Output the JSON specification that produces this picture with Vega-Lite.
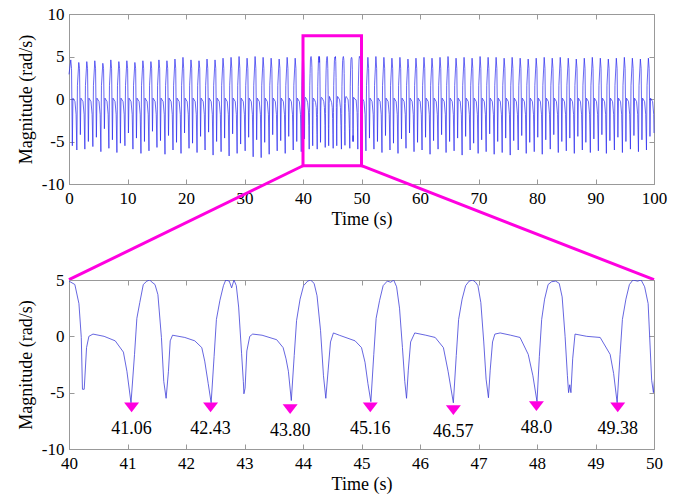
{
"$schema": "https://vega.github.io/schema/vega-lite/v6.json",
"autosize": {"type": "pad"},
"padding": {"left": 16, "top": 4, "right": 5, "bottom": 5},
"background": "white",
"spacing": 96,
"bounds": "flush",
"datasets": {
"sig": [
{"t":0,"v":2.9},{"t":0.30,"v":4.6},{"t":0.43,"v":3.6},{"t":0.57,"v":-5.5},{"t":0.67,"v":0.1},{"t":1.02,"v":-0.3},{"t":1.21,"v":-1.8},
{"t":1.34,"v":-6.0},{"t":1.44,"v":1.6},{"t":1.67,"v":4.3},{"t":1.80,"v":3.6},{"t":1.94,"v":-4.2},{"t":2.04,"v":0.1},{"t":2.39,"v":-0.3},{"t":2.58,"v":-1.8},
{"t":2.71,"v":-5.9},{"t":2.81,"v":1.6},{"t":3.04,"v":4.4},{"t":3.17,"v":3.6},{"t":3.31,"v":-5.0},{"t":3.41,"v":0.1},{"t":3.76,"v":-0.3},{"t":3.95,"v":-1.8},
{"t":4.08,"v":-5.6},{"t":4.18,"v":1.6},{"t":4.41,"v":4.5},{"t":4.54,"v":3.6},{"t":4.68,"v":-4.5},{"t":4.78,"v":0.1},{"t":5.13,"v":-0.3},{"t":5.32,"v":-1.8},
{"t":5.45,"v":-6.2},{"t":5.55,"v":1.6},{"t":5.78,"v":4.2},{"t":5.91,"v":3.6},{"t":6.05,"v":-3.5},{"t":6.15,"v":0.1},{"t":6.50,"v":-0.3},{"t":6.69,"v":-1.8},
{"t":6.82,"v":-5.8},{"t":6.92,"v":1.6},{"t":7.15,"v":4.6},{"t":7.28,"v":3.6},{"t":7.42,"v":-4.8},{"t":7.52,"v":0.1},{"t":7.87,"v":-0.3},{"t":8.06,"v":-1.8},
{"t":8.19,"v":-6.3},{"t":8.29,"v":1.6},{"t":8.52,"v":4.4},{"t":8.65,"v":3.6},{"t":8.79,"v":-5.2},{"t":8.89,"v":0.1},{"t":9.24,"v":-0.3},{"t":9.43,"v":-1.8},
{"t":9.56,"v":-5.5},{"t":9.66,"v":1.6},{"t":9.89,"v":4.5},{"t":10.02,"v":3.6},{"t":10.16,"v":-4.0},{"t":10.26,"v":0.1},{"t":10.61,"v":-0.3},{"t":10.80,"v":-1.8},
{"t":10.93,"v":-5.9},{"t":11.03,"v":1.6},{"t":11.26,"v":4.3},{"t":11.39,"v":3.6},{"t":11.53,"v":-4.6},{"t":11.63,"v":0.1},{"t":11.98,"v":-0.3},{"t":12.17,"v":-1.8},
{"t":12.30,"v":-6.4},{"t":12.40,"v":1.6},{"t":12.63,"v":4.5},{"t":12.76,"v":3.6},{"t":12.90,"v":-5.0},{"t":13.00,"v":0.1},{"t":13.35,"v":-0.3},{"t":13.54,"v":-1.8},
{"t":13.67,"v":-6.1},{"t":13.77,"v":1.6},{"t":14.00,"v":4.4},{"t":14.13,"v":3.6},{"t":14.27,"v":-3.8},{"t":14.37,"v":0.1},{"t":14.72,"v":-0.3},{"t":14.91,"v":-1.8},
{"t":15.04,"v":-5.7},{"t":15.14,"v":1.6},{"t":15.37,"v":4.6},{"t":15.50,"v":3.6},{"t":15.64,"v":-4.9},{"t":15.74,"v":0.1},{"t":16.09,"v":-0.3},{"t":16.28,"v":-1.8},
{"t":16.41,"v":-6.5},{"t":16.51,"v":1.6},{"t":16.74,"v":4.5},{"t":16.87,"v":3.6},{"t":17.01,"v":-4.3},{"t":17.11,"v":0.1},{"t":17.46,"v":-0.3},{"t":17.65,"v":-1.8},
{"t":17.78,"v":-6.0},{"t":17.88,"v":1.6},{"t":18.11,"v":4.7},{"t":18.24,"v":3.6},{"t":18.38,"v":-5.1},{"t":18.48,"v":0.1},{"t":18.83,"v":-0.3},{"t":19.02,"v":-1.8},
{"t":19.15,"v":-6.4},{"t":19.25,"v":1.6},{"t":19.48,"v":4.9},{"t":19.61,"v":3.6},{"t":19.75,"v":-4.0},{"t":19.85,"v":0.1},{"t":20.20,"v":-0.3},{"t":20.39,"v":-1.8},
{"t":20.52,"v":-5.8},{"t":20.62,"v":1.6},{"t":20.85,"v":4.6},{"t":20.98,"v":3.6},{"t":21.12,"v":-5.2},{"t":21.22,"v":0.1},{"t":21.57,"v":-0.3},{"t":21.76,"v":-1.8},
{"t":21.89,"v":-6.3},{"t":21.99,"v":1.6},{"t":22.22,"v":4.5},{"t":22.35,"v":3.6},{"t":22.49,"v":-4.4},{"t":22.59,"v":0.1},{"t":22.94,"v":-0.3},{"t":23.13,"v":-1.8},
{"t":23.26,"v":-6.0},{"t":23.36,"v":1.6},{"t":23.59,"v":4.7},{"t":23.72,"v":3.6},{"t":23.86,"v":-3.9},{"t":23.96,"v":0.1},{"t":24.31,"v":-0.3},{"t":24.50,"v":-1.8},
{"t":24.63,"v":-6.6},{"t":24.73,"v":1.6},{"t":24.96,"v":4.6},{"t":25.09,"v":3.6},{"t":25.23,"v":-5.0},{"t":25.33,"v":0.1},{"t":25.68,"v":-0.3},{"t":25.87,"v":-1.8},
{"t":26.00,"v":-6.2},{"t":26.10,"v":1.6},{"t":26.33,"v":4.8},{"t":26.46,"v":3.6},{"t":26.60,"v":-4.6},{"t":26.70,"v":0.1},{"t":27.05,"v":-0.3},{"t":27.24,"v":-1.8},
{"t":27.37,"v":-6.7},{"t":27.47,"v":1.6},{"t":27.70,"v":4.9},{"t":27.83,"v":3.6},{"t":27.97,"v":-4.1},{"t":28.07,"v":0.1},{"t":28.42,"v":-0.3},{"t":28.61,"v":-1.8},
{"t":28.74,"v":-6.4},{"t":28.84,"v":1.6},{"t":29.07,"v":5.0},{"t":29.20,"v":3.6},{"t":29.34,"v":-5.3},{"t":29.44,"v":0.1},{"t":29.79,"v":-0.3},{"t":29.98,"v":-1.8},
{"t":30.11,"v":-6.1},{"t":30.21,"v":1.6},{"t":30.44,"v":4.8},{"t":30.57,"v":3.6},{"t":30.71,"v":-4.5},{"t":30.81,"v":0.1},{"t":31.16,"v":-0.3},{"t":31.35,"v":-1.8},
{"t":31.48,"v":-6.8},{"t":31.58,"v":1.6},{"t":31.81,"v":5.0},{"t":31.94,"v":3.6},{"t":32.08,"v":-4.8},{"t":32.18,"v":0.1},{"t":32.53,"v":-0.3},{"t":32.72,"v":-1.8},
{"t":32.85,"v":-6.9},{"t":32.95,"v":1.6},{"t":33.18,"v":4.9},{"t":33.31,"v":3.6},{"t":33.45,"v":-5.1},{"t":33.55,"v":0.1},{"t":33.90,"v":-0.3},{"t":34.09,"v":-1.8},
{"t":34.22,"v":-6.5},{"t":34.32,"v":1.6},{"t":34.55,"v":4.8},{"t":34.68,"v":3.6},{"t":34.82,"v":-4.2},{"t":34.92,"v":0.1},{"t":35.27,"v":-0.3},{"t":35.46,"v":-1.8},
{"t":35.59,"v":-6.1},{"t":35.69,"v":1.6},{"t":35.92,"v":4.7},{"t":36.05,"v":3.6},{"t":36.19,"v":-4.9},{"t":36.29,"v":0.1},{"t":36.64,"v":-0.3},{"t":36.83,"v":-1.8},
{"t":36.96,"v":-6.4},{"t":37.06,"v":1.6},{"t":37.29,"v":4.9},{"t":37.42,"v":3.6},{"t":37.56,"v":-4.4},{"t":37.66,"v":0.1},{"t":38.01,"v":-0.3},{"t":38.20,"v":-1.8},
{"t":38.33,"v":-6.0},{"t":38.43,"v":1.6},{"t":38.66,"v":4.8},{"t":38.79,"v":3.6},{"t":38.93,"v":-5.0},{"t":39.03,"v":0.1},{"t":39.38,"v":-0.3},{"t":39.57,"v":-1.8},
{"t":39.70,"v":-6.2},{"t":39.80,"v":1.6},{"t":39.91,"v":4.5},
{"t":40.00,"v":4.9},{"t":40.10,"v":4.6},{"t":40.17,"v":2.9},{"t":40.21,"v":-0.1},{"t":40.23,"v":-4.7},{"t":40.26,"v":-4.7},{"t":40.30,"v":-1.0},{"t":40.34,"v":0.0},{"t":40.41,"v":0.2},{"t":40.60,"v":0.0},{"t":40.79,"v":-0.4},{"t":40.93,"v":-1.4},{"t":40.99,"v":-3.1},
{"t":41.06,"v":-5.9},{"t":41.12,"v":-1.6},{"t":41.16,"v":1.6},{"t":41.21,"v":3.0},{"t":41.27,"v":4.6},{"t":41.33,"v":4.9},{"t":41.38,"v":5.0},{"t":41.42,"v":4.8},{"t":41.47,"v":4.6},{"t":41.52,"v":3.7},{"t":41.58,"v":-0.1},{"t":41.62,"v":-4.0},{"t":41.66,"v":-5.5},{"t":41.70,"v":-3.1},{"t":41.73,"v":-0.4},{"t":41.77,"v":0.1},{"t":41.98,"v":-0.1},{"t":42.15,"v":-0.4},{"t":42.27,"v":-1.0},{"t":42.32,"v":-2.2},{"t":42.38,"v":-4.2},
{"t":42.43,"v":-5.9},{"t":42.48,"v":-1.8},{"t":42.52,"v":1.5},{"t":42.58,"v":3.2},{"t":42.64,"v":4.5},{"t":42.68,"v":5.0},{"t":42.74,"v":4.9},{"t":42.78,"v":4.3},{"t":42.82,"v":5.0},{"t":42.86,"v":4.5},{"t":42.90,"v":2.6},{"t":42.95,"v":-1.5},{"t":42.98,"v":-4.0},{"t":42.99,"v":-5.1},{"t":43.01,"v":-4.6},{"t":43.04,"v":-1.3},{"t":43.09,"v":0.0},{"t":43.14,"v":0.2},{"t":43.30,"v":0.1},{"t":43.55,"v":-0.3},{"t":43.66,"v":-1.0},{"t":43.71,"v":-2.0},{"t":43.75,"v":-3.1},
{"t":43.80,"v":-5.7},{"t":43.85,"v":-1.7},{"t":43.89,"v":1.4},{"t":43.95,"v":3.3},{"t":44.01,"v":4.5},{"t":44.08,"v":4.9},{"t":44.13,"v":5.0},{"t":44.19,"v":4.7},{"t":44.24,"v":3.6},{"t":44.30,"v":0.5},{"t":44.35,"v":-3.5},{"t":44.39,"v":-5.5},{"t":44.43,"v":-3.0},{"t":44.47,"v":-0.5},{"t":44.52,"v":0.3},{"t":44.62,"v":0.1},{"t":44.89,"v":-0.4},{"t":45.00,"v":-1.0},{"t":45.06,"v":-2.3},{"t":45.11,"v":-4.2},
{"t":45.16,"v":-5.8},{"t":45.21,"v":-1.6},{"t":45.25,"v":1.6},{"t":45.31,"v":3.2},{"t":45.37,"v":4.5},{"t":45.44,"v":4.9},{"t":45.50,"v":4.8},{"t":45.55,"v":5.0},{"t":45.60,"v":4.4},{"t":45.65,"v":2.5},{"t":45.70,"v":-1.0},{"t":45.74,"v":-4.0},{"t":45.77,"v":-5.5},{"t":45.80,"v":-3.0},{"t":45.84,"v":-0.5},{"t":45.91,"v":0.3},{"t":46.10,"v":0.1},{"t":46.26,"v":-0.1},{"t":46.40,"v":-1.0},{"t":46.48,"v":-3.1},
{"t":46.57,"v":-5.9},{"t":46.62,"v":-1.7},{"t":46.66,"v":1.5},{"t":46.72,"v":3.3},{"t":46.78,"v":4.5},{"t":46.84,"v":4.9},{"t":46.90,"v":5.0},{"t":46.95,"v":4.8},{"t":46.99,"v":4.5},{"t":47.04,"v":3.0},{"t":47.09,"v":-0.5},{"t":47.13,"v":-3.8},{"t":47.17,"v":-5.45},{"t":47.20,"v":-3.0},{"t":47.24,"v":-0.5},{"t":47.28,"v":0.2},{"t":47.37,"v":0.3},{"t":47.55,"v":0.1},{"t":47.71,"v":-0.1},{"t":47.85,"v":-1.6},{"t":47.93,"v":-3.5},
{"t":48.00,"v":-5.8},{"t":48.04,"v":-1.8},{"t":48.08,"v":1.5},{"t":48.13,"v":3.3},{"t":48.19,"v":4.6},{"t":48.25,"v":4.85},{"t":48.32,"v":4.9},{"t":48.38,"v":4.7},{"t":48.43,"v":3.5},{"t":48.48,"v":0.0},{"t":48.52,"v":-3.5},{"t":48.54,"v":-5.0},{"t":48.56,"v":-4.3},{"t":48.58,"v":-5.0},{"t":48.61,"v":-2.0},{"t":48.65,"v":0.2},{"t":48.85,"v":0.0},{"t":49.08,"v":-0.1},{"t":49.25,"v":-1.6},{"t":49.31,"v":-3.3},
{"t":49.37,"v":-5.9},{"t":49.42,"v":-1.6},{"t":49.46,"v":1.5},{"t":49.52,"v":3.3},{"t":49.58,"v":4.6},{"t":49.64,"v":5.0},{"t":49.72,"v":4.9},{"t":49.78,"v":5.0},{"t":49.84,"v":4.4},{"t":49.90,"v":2.9},{"t":49.96,"v":-3.9},{"t":49.99,"v":-5.0},{"t":50.02,"v":-3.0},{"t":50.06,"v":-0.5},{"t":50.12,"v":0.1},{"t":50.42,"v":-0.3},{"t":50.61,"v":-1.8},
{"t":50.76,"v":-6.1},{"t":50.86,"v":1.6},{"t":51.09,"v":4.9},{"t":51.22,"v":3.6},{"t":51.36,"v":-4.6},{"t":51.46,"v":0.1},{"t":51.81,"v":-0.3},{"t":52.00,"v":-1.8},
{"t":52.13,"v":-5.9},{"t":52.23,"v":1.6},{"t":52.46,"v":5.0},{"t":52.59,"v":3.6},{"t":52.73,"v":-5.0},{"t":52.83,"v":0.1},{"t":53.18,"v":-0.3},{"t":53.37,"v":-1.8},
{"t":53.50,"v":-6.3},{"t":53.60,"v":1.6},{"t":53.83,"v":4.9},{"t":53.96,"v":3.6},{"t":54.10,"v":-4.3},{"t":54.20,"v":0.1},{"t":54.55,"v":-0.3},{"t":54.74,"v":-1.8},
{"t":54.87,"v":-6.0},{"t":54.97,"v":1.6},{"t":55.20,"v":4.8},{"t":55.33,"v":3.6},{"t":55.47,"v":-5.2},{"t":55.57,"v":0.1},{"t":55.92,"v":-0.3},{"t":56.11,"v":-1.8},
{"t":56.24,"v":-6.4},{"t":56.34,"v":1.6},{"t":56.57,"v":4.9},{"t":56.70,"v":3.6},{"t":56.84,"v":-4.7},{"t":56.94,"v":0.1},{"t":57.29,"v":-0.3},{"t":57.48,"v":-1.8},
{"t":57.61,"v":-5.8},{"t":57.71,"v":1.6},{"t":57.94,"v":4.7},{"t":58.07,"v":3.6},{"t":58.21,"v":-4.0},{"t":58.31,"v":0.1},{"t":58.66,"v":-0.3},{"t":58.85,"v":-1.8},
{"t":58.98,"v":-6.2},{"t":59.08,"v":1.6},{"t":59.31,"v":4.8},{"t":59.44,"v":3.6},{"t":59.58,"v":-5.1},{"t":59.68,"v":0.1},{"t":60.03,"v":-0.3},{"t":60.22,"v":-1.8},
{"t":60.35,"v":-6.0},{"t":60.45,"v":1.6},{"t":60.68,"v":4.9},{"t":60.81,"v":3.6},{"t":60.95,"v":-4.5},{"t":61.05,"v":0.1},{"t":61.40,"v":-0.3},{"t":61.59,"v":-1.8},
{"t":61.72,"v":-6.5},{"t":61.82,"v":1.6},{"t":62.05,"v":4.8},{"t":62.18,"v":3.6},{"t":62.32,"v":-4.9},{"t":62.42,"v":0.1},{"t":62.77,"v":-0.3},{"t":62.96,"v":-1.8},
{"t":63.09,"v":-5.9},{"t":63.19,"v":1.6},{"t":63.42,"v":4.9},{"t":63.55,"v":3.6},{"t":63.69,"v":-4.2},{"t":63.79,"v":0.1},{"t":64.14,"v":-0.3},{"t":64.33,"v":-1.8},
{"t":64.46,"v":-6.3},{"t":64.56,"v":1.6},{"t":64.79,"v":5.0},{"t":64.92,"v":3.6},{"t":65.06,"v":-5.0},{"t":65.16,"v":0.1},{"t":65.51,"v":-0.3},{"t":65.70,"v":-1.8},
{"t":65.83,"v":-6.1},{"t":65.93,"v":1.6},{"t":66.16,"v":4.8},{"t":66.29,"v":3.6},{"t":66.43,"v":-4.6},{"t":66.53,"v":0.1},{"t":66.88,"v":-0.3},{"t":67.07,"v":-1.8},
{"t":67.20,"v":-6.6},{"t":67.30,"v":1.6},{"t":67.53,"v":4.9},{"t":67.66,"v":3.6},{"t":67.80,"v":-4.4},{"t":67.90,"v":0.1},{"t":68.25,"v":-0.3},{"t":68.44,"v":-1.8},
{"t":68.57,"v":-6.0},{"t":68.67,"v":1.6},{"t":68.90,"v":4.8},{"t":69.03,"v":3.6},{"t":69.17,"v":-5.2},{"t":69.27,"v":0.1},{"t":69.62,"v":-0.3},{"t":69.81,"v":-1.8},
{"t":69.94,"v":-6.4},{"t":70.04,"v":1.6},{"t":70.27,"v":5.0},{"t":70.40,"v":3.6},{"t":70.54,"v":-4.8},{"t":70.64,"v":0.1},{"t":70.99,"v":-0.3},{"t":71.18,"v":-1.8},
{"t":71.31,"v":-6.2},{"t":71.41,"v":1.6},{"t":71.64,"v":4.9},{"t":71.77,"v":3.6},{"t":71.91,"v":-4.1},{"t":72.01,"v":0.1},{"t":72.36,"v":-0.3},{"t":72.55,"v":-1.8},
{"t":72.68,"v":-6.5},{"t":72.78,"v":1.6},{"t":73.01,"v":4.9},{"t":73.14,"v":3.6},{"t":73.28,"v":-5.0},{"t":73.38,"v":0.1},{"t":73.73,"v":-0.3},{"t":73.92,"v":-1.8},
{"t":74.05,"v":-6.3},{"t":74.15,"v":1.6},{"t":74.38,"v":4.8},{"t":74.51,"v":3.6},{"t":74.65,"v":-4.6},{"t":74.75,"v":0.1},{"t":75.10,"v":-0.3},{"t":75.29,"v":-1.8},
{"t":75.42,"v":-6.6},{"t":75.52,"v":1.6},{"t":75.75,"v":4.9},{"t":75.88,"v":3.6},{"t":76.02,"v":-4.9},{"t":76.12,"v":0.1},{"t":76.47,"v":-0.3},{"t":76.66,"v":-1.8},
{"t":76.79,"v":-6.0},{"t":76.89,"v":1.6},{"t":77.12,"v":4.8},{"t":77.25,"v":3.6},{"t":77.39,"v":-4.3},{"t":77.49,"v":0.1},{"t":77.84,"v":-0.3},{"t":78.03,"v":-1.8},
{"t":78.16,"v":-6.4},{"t":78.26,"v":1.6},{"t":78.49,"v":4.7},{"t":78.62,"v":3.6},{"t":78.76,"v":-5.1},{"t":78.86,"v":0.1},{"t":79.21,"v":-0.3},{"t":79.40,"v":-1.8},
{"t":79.53,"v":-6.2},{"t":79.63,"v":1.6},{"t":79.86,"v":4.8},{"t":79.99,"v":3.6},{"t":80.13,"v":-4.5},{"t":80.23,"v":0.1},{"t":80.58,"v":-0.3},{"t":80.77,"v":-1.8},
{"t":80.90,"v":-6.5},{"t":81.00,"v":1.6},{"t":81.23,"v":4.9},{"t":81.36,"v":3.6},{"t":81.50,"v":-4.8},{"t":81.60,"v":0.1},{"t":81.95,"v":-0.3},{"t":82.14,"v":-1.8},
{"t":82.27,"v":-5.9},{"t":82.37,"v":1.6},{"t":82.60,"v":4.8},{"t":82.73,"v":3.6},{"t":82.87,"v":-4.2},{"t":82.97,"v":0.1},{"t":83.32,"v":-0.3},{"t":83.51,"v":-1.8},
{"t":83.64,"v":-6.3},{"t":83.74,"v":1.6},{"t":83.97,"v":4.9},{"t":84.10,"v":3.6},{"t":84.24,"v":-5.0},{"t":84.34,"v":0.1},{"t":84.69,"v":-0.3},{"t":84.88,"v":-1.8},
{"t":85.01,"v":-6.1},{"t":85.11,"v":1.6},{"t":85.34,"v":4.8},{"t":85.47,"v":3.6},{"t":85.61,"v":-4.6},{"t":85.71,"v":0.1},{"t":86.06,"v":-0.3},{"t":86.25,"v":-1.8},
{"t":86.38,"v":-6.4},{"t":86.48,"v":1.6},{"t":86.71,"v":4.7},{"t":86.84,"v":3.6},{"t":86.98,"v":-4.4},{"t":87.08,"v":0.1},{"t":87.43,"v":-0.3},{"t":87.62,"v":-1.8},
{"t":87.75,"v":-6.0},{"t":87.85,"v":1.6},{"t":88.08,"v":4.8},{"t":88.21,"v":3.6},{"t":88.35,"v":-5.1},{"t":88.45,"v":0.1},{"t":88.80,"v":-0.3},{"t":88.99,"v":-1.8},
{"t":89.12,"v":-6.3},{"t":89.22,"v":1.6},{"t":89.45,"v":4.9},{"t":89.58,"v":3.6},{"t":89.72,"v":-4.7},{"t":89.82,"v":0.1},{"t":90.17,"v":-0.3},{"t":90.36,"v":-1.8},
{"t":90.49,"v":-6.1},{"t":90.59,"v":1.6},{"t":90.82,"v":4.8},{"t":90.95,"v":3.6},{"t":91.09,"v":-4.2},{"t":91.19,"v":0.1},{"t":91.54,"v":-0.3},{"t":91.73,"v":-1.8},
{"t":91.86,"v":-6.4},{"t":91.96,"v":1.6},{"t":92.19,"v":4.7},{"t":92.32,"v":3.6},{"t":92.46,"v":-4.9},{"t":92.56,"v":0.1},{"t":92.91,"v":-0.3},{"t":93.10,"v":-1.8},
{"t":93.23,"v":-6.0},{"t":93.33,"v":1.6},{"t":93.56,"v":4.8},{"t":93.69,"v":3.6},{"t":93.83,"v":-4.5},{"t":93.93,"v":0.1},{"t":94.28,"v":-0.3},{"t":94.47,"v":-1.8},
{"t":94.60,"v":-6.3},{"t":94.70,"v":1.6},{"t":94.93,"v":4.9},{"t":95.06,"v":3.6},{"t":95.20,"v":-5.0},{"t":95.30,"v":0.1},{"t":95.65,"v":-0.3},{"t":95.84,"v":-1.8},
{"t":95.97,"v":-5.9},{"t":96.07,"v":1.6},{"t":96.30,"v":4.8},{"t":96.43,"v":3.6},{"t":96.57,"v":-4.3},{"t":96.67,"v":0.1},{"t":97.02,"v":-0.3},{"t":97.21,"v":-1.8},
{"t":97.34,"v":-6.2},{"t":97.44,"v":1.6},{"t":97.67,"v":4.7},{"t":97.80,"v":3.6},{"t":97.94,"v":-4.8},{"t":98.04,"v":0.1},{"t":98.39,"v":-0.3},{"t":98.58,"v":-1.8},
{"t":98.71,"v":-6.0},{"t":98.81,"v":1.6},{"t":99.04,"v":4.8},{"t":99.17,"v":3.6},{"t":99.31,"v":-4.4},{"t":99.41,"v":0.1},{"t":99.76,"v":-0.3},{"t":99.95,"v":-1.8},{"t":100.0,"v":-4.0}
],
"peaks": [
{"t":41.07,"v":-6.3,"label":"41.06"},
{"t":42.42,"v":-6.3,"label":"42.43"},
{"t":43.78,"v":-6.45,"label":"43.80"},
{"t":45.15,"v":-6.3,"label":"45.16"},
{"t":46.57,"v":-6.55,"label":"46.57"},
{"t":47.99,"v":-6.2,"label":"48.0"},
{"t":49.38,"v":-6.3,"label":"49.38"}
],
"zoombox": [{"x0":40,"x1":50,"y0":-7.85,"y1":7.45}],
"links": [{"x0":40,"y0":-7.85,"x1":0,"y1":-21.26},{"x0":50,"y0":-7.85,"x1":100,"y1":-21.26}]
},
"vconcat": [
{
"width": 585, "height": 170,
"layer": [
{"data":{"name":"sig"},
 "mark":{"type":"line","color":"#2626ee","strokeWidth":0.7},
 "encoding":{
  "x":{"field":"t","type":"quantitative","scale":{"domain":[0,100],"nice":false,"zero":false},"axis":{"values":[0,10,20,30,40,50,60,70,80,90,100],"title":"Time (s)"}},
  "y":{"field":"v","type":"quantitative","scale":{"domain":[-10,10],"nice":false},"axis":{"values":[-10,-5,0,5,10],"title":"Magnitude (rad/s)"}}
 }},
{"data":{"name":"zoombox"},
 "mark":{"type":"rect","fillOpacity":0,"stroke":"#ff00e0","strokeWidth":3},
 "encoding":{
  "x":{"field":"x0","type":"quantitative","scale":{"domain":[0,100],"nice":false,"zero":false},"axis":{"orient":"top","labels":false,"title":null,"domain":false,"values":[0,10,20,30,40,50,60,70,80,90,100]}},
  "x2":{"field":"x1"},
  "y":{"field":"y0","type":"quantitative","scale":{"domain":[-10,10],"nice":false},"axis":{"orient":"right","labels":false,"title":null,"domain":false,"values":[-10,-5,0,5,10]}},
  "y2":{"field":"y1"}
 }},
{"data":{"name":"links"},
 "mark":{"type":"rule","color":"#ff00e0","strokeWidth":3,"clip":false},
 "encoding":{
  "x":{"field":"x0","type":"quantitative","scale":{"domain":[0,100],"nice":false,"zero":false},"axis":null},
  "x2":{"field":"x1"},
  "y":{"field":"y0","type":"quantitative","scale":{"domain":[-10,10],"nice":false},"axis":null},
  "y2":{"field":"y1"}
 }}
],
"resolve":{"axis":{"x":"independent","y":"independent"}}
},
{
"width": 585, "height": 169,
"layer": [
{"data":{"name":"sig"},
 "transform":[{"filter":"datum.t >= 39.9 && datum.t <= 50.2"}],
 "mark":{"type":"line","color":"#3f3fd8","strokeWidth":0.8,"clip":true},
 "encoding":{
  "x":{"field":"t","type":"quantitative","scale":{"domain":[40,50],"nice":false,"zero":false},"axis":{"values":[40,41,42,43,44,45,46,47,48,49,50],"title":"Time (s)"}},
  "y":{"field":"v","type":"quantitative","scale":{"domain":[-10,5],"nice":false},"axis":{"values":[-10,-5,0,5],"title":"Magnitude (rad/s)"}}
 }},
{"data":{"name":"peaks"},
 "mark":{"type":"point","shape":"M-1,-0.65L1,-0.65L0,0.65Z","size":225,"filled":true,"color":"#ff00e0","opacity":1},
 "encoding":{
  "x":{"field":"t","type":"quantitative","scale":{"domain":[40,50],"nice":false,"zero":false},"axis":{"orient":"top","labels":false,"title":null,"domain":false,"values":[40,41,42,43,44,45,46,47,48,49,50]}},
  "y":{"field":"v","type":"quantitative","scale":{"domain":[-10,5],"nice":false},"axis":{"orient":"right","labels":false,"title":null,"domain":false,"values":[-10,-5,0,5]}}
 }},
{"data":{"name":"peaks"},
 "mark":{"type":"text","font":"Liberation Serif","fontSize":18,"color":"#000","align":"center","baseline":"middle","dy":22},
 "encoding":{
  "x":{"field":"t","type":"quantitative","scale":{"domain":[40,50],"nice":false,"zero":false},"axis":null},
  "y":{"field":"v","type":"quantitative","scale":{"domain":[-10,5],"nice":false},"axis":null},
  "text":{"field":"label","type":"nominal"}
 }}
],
"resolve":{"axis":{"x":"independent","y":"independent"}}
}
],
"config": {
 "view": {"stroke":"#999999","strokeWidth":1},
 "axis": {"grid":false,"domainColor":"#999999","tickColor":"#999999","tickSize":-5,"labelFont":"Liberation Serif","labelFontSize":17,"labelColor":"#000000","titleFont":"Liberation Serif","titleFontSize":18,"titleFontWeight":"normal","titleColor":"#000000","labelOverlap":false,"labelFlush":false,"labelPadding":11,"labelExpr":"'' + datum.value"},
 "axisX": {"titlePadding":4},
 "axisY": {"labelPadding":10,"titlePadding":6}
}
}
